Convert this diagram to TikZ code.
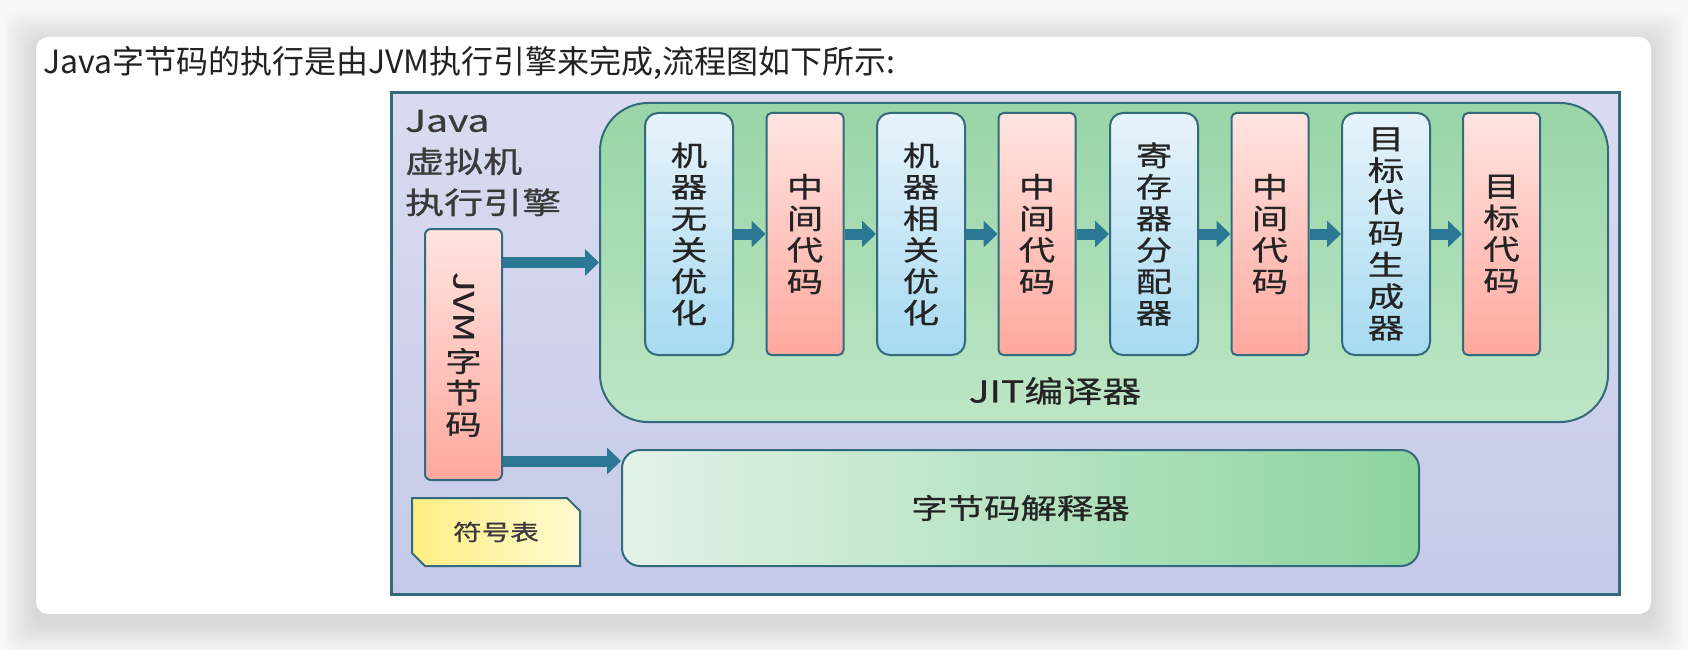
\documentclass[tikz,border=0pt]{standalone}
\usepackage{fontspec}
\newfontfamily\cjk{Noto Sans CJK SC}
\newfontfamily\cjkwide[FakeStretch=1.3, FakeBold=0.7]{Noto Sans CJK SC}
\definecolor{pagebg}{RGB}{248, 248, 248}
\definecolor{titleink}{RGB}{34, 34, 34}
\definecolor{labelink}{RGB}{58, 58, 58}
\definecolor{boxink}{RGB}{36, 36, 36}
\definecolor{edgeteal}{RGB}{52, 106, 126}
\definecolor{arrowteal}{RGB}{42, 120, 148}
\definecolor{lavtop}{RGB}{218, 219, 240}
\definecolor{lavbot}{RGB}{196, 202, 232}
\definecolor{jitgreen}{RGB}{152, 213, 166}
\definecolor{jitlight}{RGB}{190, 230, 198}
\definecolor{bluetop}{RGB}{232, 243, 251}
\definecolor{bluebot}{RGB}{166, 218, 240}
\definecolor{pinktop}{RGB}{255, 228, 224}
\definecolor{pinkbot}{RGB}{255, 168, 158}
\definecolor{yelleft}{RGB}{255, 238, 130}
\definecolor{yelright}{RGB}{255, 250, 210}
\definecolor{interpleft}{RGB}{226, 242, 231}
\definecolor{interpright}{RGB}{140, 212, 158}
\usetikzlibrary{arrows.meta, shapes.misc}
\tikzset{
	vmframe/.style={rectangle, draw=edgeteal, line width=3pt, top color=lavtop, bottom color=lavbot},
	jitbox/.style={rectangle, rounded corners=48pt, draw=edgeteal, line width=2pt, top color=jitgreen, bottom color=jitlight, minimum width=1008pt, minimum height=319pt},
	stage/.style={rectangle, rounded corners=13pt, draw=edgeteal, line width=2pt, top color=bluetop, bottom color=bluebot, minimum width=88pt, minimum height=242pt, align=center, inner sep=0pt, text=boxink, font=\cjkwide\fontsize{28}{31.5}\selectfont},
	midcode/.style={stage, rounded corners=5pt, top color=pinktop, bottom color=pinkbot, minimum width=77pt},
	interp/.style={rectangle, rounded corners=18pt, draw=edgeteal, line width=2pt, left color=interpleft, right color=interpright, minimum width=797pt, minimum height=116pt, text=boxink, font=\cjkwide\fontsize{28}{30}\selectfont},
	symtab/.style={chamfered rectangle, chamfered rectangle corners={north east, south west}, chamfered rectangle xsep=13pt, draw=edgeteal, line width=2pt, left color=yelleft, right color=yelright, minimum width=168pt, minimum height=68pt, inner sep=0pt, text=labelink, font=\cjkwide\fontsize{22}{24}\selectfont},
	enginelabel/.style={align=left, inner sep=0pt, text=labelink, font=\cjkwide\fontsize{30}{41}\selectfont},
	arrow/.style={-{Triangle[length=14pt, width=26pt]}, line width=11pt, draw=arrowteal},
}

\begin{document}
\begin{tikzpicture}[x=1pt, y=-1pt]
		\useasboundingbox (0,0) rectangle (1688,650);
		\fill[pagebg] (0,0) rectangle (1688,650);
		% card and its shadow
		\foreach \s in {1,...,16}
			\fill[black, opacity=0.009, rounded corners=14pt] ({36-2*\s},{43-2*\s}) rectangle ({1651+2*\s},{622+2*\s});
		\fill[white, rounded corners=12pt] (36,37) rectangle (1651,614);
		\node[anchor=west, inner sep=0pt, text=titleink, font=\cjk\fontsize{32}{36}\selectfont] (caption) at (43,63) {Java字节码的执行是由JVM执行引擎来完成,流程图如下所示:};
		% execution engine
		\node[vmframe, minimum width=1228pt, minimum height=501pt] (engine) at (1005,343.5) {};
		\node[enginelabel, anchor=west] (enginename) at (405,163) {Java\\虚拟机\\执行引擎};
		\node[midcode, rounded corners=6pt, minimum height=251pt] (bytecode) at (463.5,354.5) {\rotatebox[origin=c]{-90}{JVM}\\[5pt]字\\节\\码};
		\node[symtab] (table) at (496,532) {符号表};
		% JIT compiler pipeline
		\node[jitbox] (jit) at (1104,262.5) {};
		\node[inner sep=0pt, text=boxink, font=\cjkwide\fontsize{30}{34}\selectfont] (jitname) at (1055,391) {JIT编译器};
		\node[stage] (s1) at (689,234) {机\\器\\无\\关\\优\\化};
		\node[midcode] (s2) at (805,234) {中\\间\\代\\码};
		\node[stage] (s3) at (921,234) {机\\器\\相\\关\\优\\化};
		\node[midcode] (s4) at (1037,234) {中\\间\\代\\码};
		\node[stage] (s5) at (1154,234) {寄\\存\\器\\分\\配\\器};
		\node[midcode] (s6) at (1270,234) {中\\间\\代\\码};
		\node[stage] (s7) at (1386,234) {目\\标\\代\\码\\生\\成\\器};
		\node[midcode] (s8) at (1501.5,234) {目\\标\\代\\码};
		\foreach \a/\b in {s1/s2, s2/s3, s3/s4, s4/s5, s5/s6, s6/s7, s7/s8}
			\draw[arrow] (\a) -- (\b);
		% interpreter
		\node[interp] (interpreter) at (1020.5,508) {字节码解释器};
		\draw[arrow] (bytecode.east |- jit.west) -- (jit.west);
		\coordinate (lowout) at ([yshift=20pt]bytecode.south east);
		\draw[arrow] (lowout) -- (lowout -| interpreter.west);
	\end{tikzpicture}
\end{document}
